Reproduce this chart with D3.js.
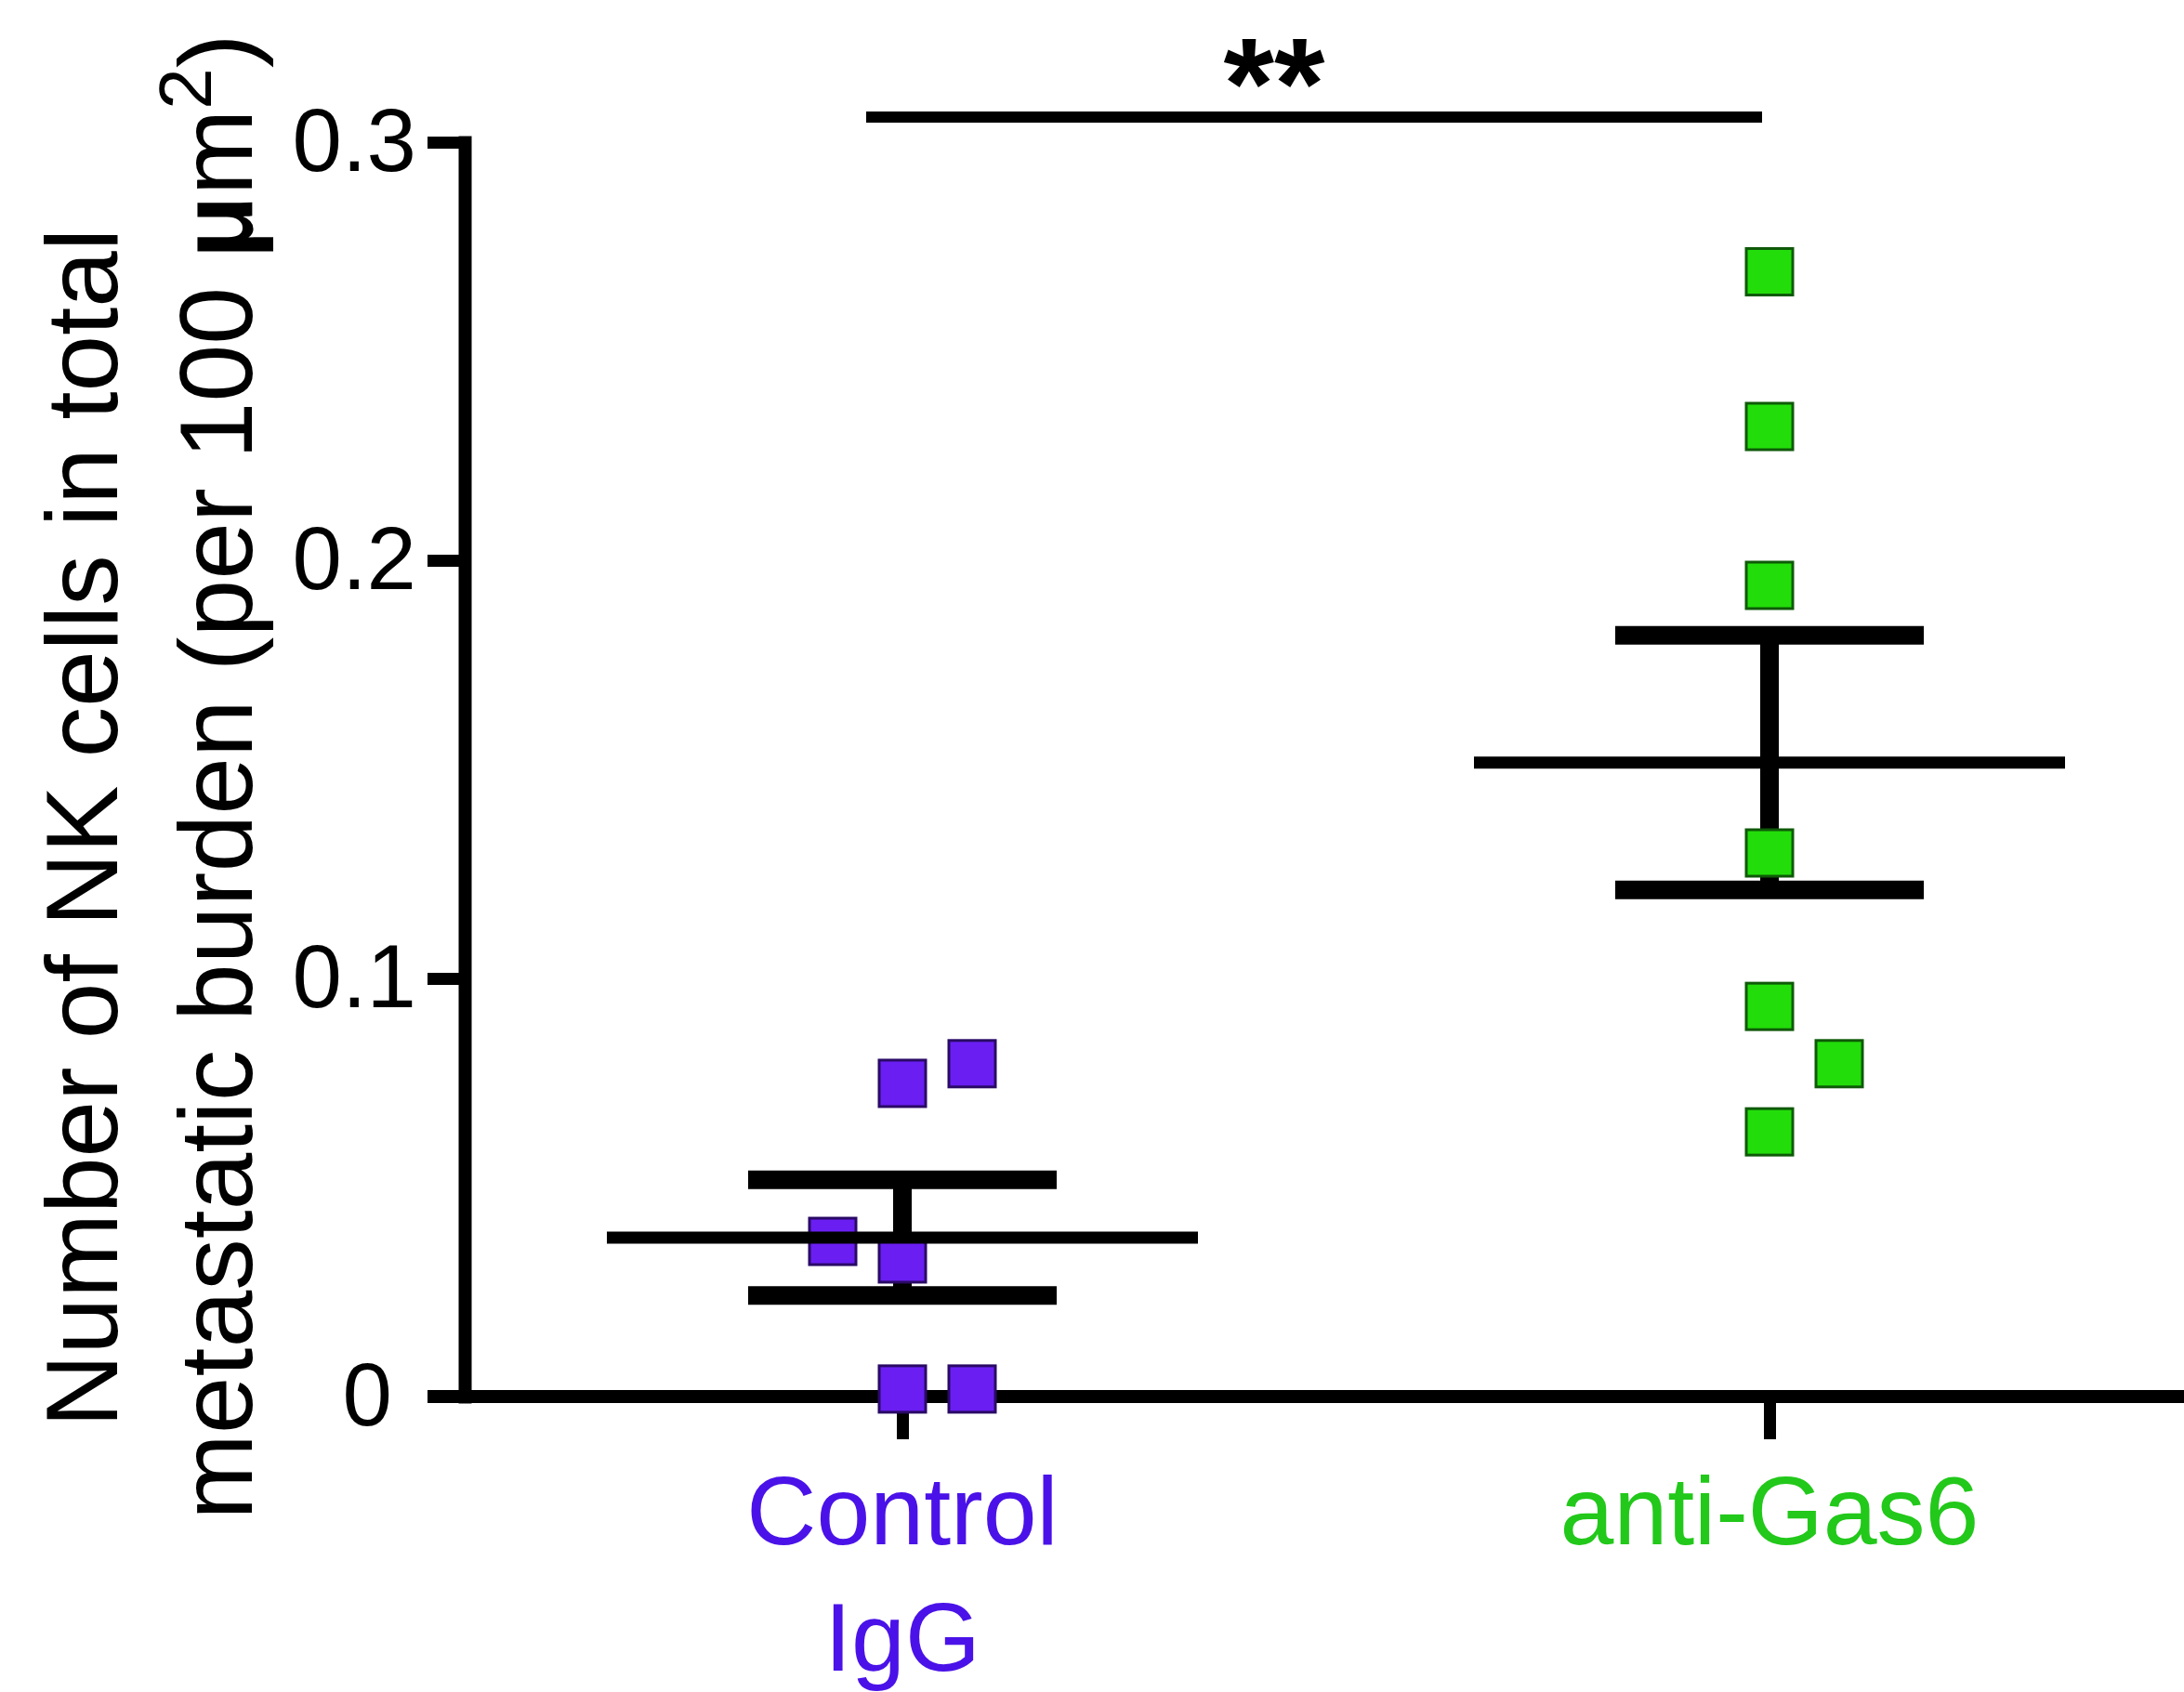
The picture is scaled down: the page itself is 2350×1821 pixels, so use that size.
<!DOCTYPE html>
<html>
<head>
<meta charset="utf-8">
<script src="https://cdn.jsdelivr.net/npm/d3@7"></script>
<style>
  html, body { margin: 0; padding: 0; background: #fff; }
  text { font-family: "Liberation Sans", Arial, sans-serif; }
</style>
</head>
<body>
<svg id="drawing_region"></svg>
<script>
// groups and their values
var categories = ['Control IgG', 'anti-Gas6'];
var categoryLines = [['Control', 'IgG'], ['anti-Gas6']];
var controlValues = [0.0749, 0.0796, 0.0371, 0.0329, 0.0018, 0.0018];
var controlSlots = [0, 1, -1, 0, 0, 1];
var gas6Values = [0.269, 0.232, 0.194, 0.130, 0.0933, 0.0796, 0.0633];
var gas6Slots = [0, 0, 0, 0, 0, 1, 0];
var yTicks = [0, 0.1, 0.2, 0.3];
var yTickLabels = ['0', '0.1', '0.2', '0.3'];
var significance = '**';

var width = 2350;
var height = 1821;
var margin = {top: 153, right: 0, bottom: 318, left: 500};

var groups = [
    {name: categories[0], values: controlValues, slots: controlSlots, fill: '#6a1ef2', stroke: '#2a0a66', text: '#4a12e8'},
    {name: categories[1], values: gas6Values, slots: gas6Slots, fill: '#22dd0a', stroke: '#0e5a08', text: '#22c81a'}
];
groups.forEach(function (g) {
    var n = g.values.length;
    g.mean = d3.mean(g.values);
    g.sem = d3.deviation(g.values) / Math.sqrt(n);
});

var svg = d3.select('#drawing_region')
    .attr('width', width)
    .attr('height', height);

svg.append('rect')
    .attr('width', width)
    .attr('height', height)
    .attr('fill', '#fff');

const xscale = d3.scalePoint()
    .domain(categories)
    .range([971, 1904]);

const yscale = d3.scaleLinear()
    .domain([0, 0.3])
    .range([height - margin.bottom - 0, margin.top]);

// y axis
const yaxis = d3.axisLeft(yscale)
    .tickValues(yTicks)
    .tickFormat((d, i) => yTickLabels[i])
    .tickSize(40)
    .tickSizeOuter(0)
    .tickPadding(12);

const yaxis_group = svg.append('g')
    .attr('transform', `translate(${margin.left}, 0)`)
    .call(yaxis);

yaxis_group.select('.domain')
    .attr('stroke', '#000')
    .attr('stroke-width', 14)
    .attr('stroke-linecap', 'square');
yaxis_group.selectAll('.tick line')
    .attr('stroke', '#000')
    .attr('stroke-width', 13);
yaxis_group.selectAll('.tick text')
    .attr('font-size', 96)
    .attr('fill', '#000')
    .attr('dx', d => d === 0 ? -26 : 0);

// x axis
const xaxis = d3.axisBottom(xscale)
    .tickSize(46)
    .tickSizeOuter(0)
    .tickFormat('');

const xaxis_group = svg.append('g')
    .attr('transform', `translate(0, ${yscale(0)})`)
    .call(xaxis);
xaxis_group.select('.domain').remove();
xaxis_group.selectAll('.tick line')
    .attr('stroke', '#000')
    .attr('stroke-width', 13);
xaxis_group.append('line')
    .attr('x1', margin.left - 40)
    .attr('x2', width)
    .attr('stroke', '#000')
    .attr('stroke-width', 14);

// category labels
groups.forEach(function (g, i) {
    var t = svg.append('text')
        .attr('x', xscale(g.name))
        .attr('y', 1662)
        .attr('text-anchor', 'middle')
        .attr('font-size', 104)
        .attr('fill', g.text);
    categoryLines[i].forEach(function (line, j) {
        t.append('tspan')
            .attr('x', xscale(g.name))
            .attr('dy', j === 0 ? 0 : 136)
            .text(line);
    });
});

// error bars (SEM) and markers
var markerSize = 50;
var slotStep = 75;
var stats = svg.append('g');

groups.forEach(function (g) {
    var cx = xscale(g.name);
    stats.append('line')
        .attr('x1', cx).attr('x2', cx)
        .attr('y1', yscale(g.mean + g.sem))
        .attr('y2', yscale(g.mean - g.sem))
        .attr('stroke', '#000')
        .attr('stroke-width', 20);
});

var points = svg.append('g');
groups.forEach(function (g) {
    points.selectAll(null)
        .data(g.values)
        .join('rect')
        .attr('x', (d, i) => xscale(g.name) + g.slots[i] * slotStep - markerSize / 2)
        .attr('y', d => yscale(d) - markerSize / 2)
        .attr('width', markerSize)
        .attr('height', markerSize)
        .attr('fill', g.fill)
        .attr('stroke', g.stroke)
        .attr('stroke-width', 3);
});

var bars = svg.append('g');
groups.forEach(function (g) {
    var cx = xscale(g.name);
    bars.append('line')
        .attr('x1', cx - 318).attr('x2', cx + 318)
        .attr('y1', yscale(g.mean)).attr('y2', yscale(g.mean))
        .attr('stroke', '#000')
        .attr('stroke-width', 13);
    [g.mean + g.sem, g.mean - g.sem].forEach(function (v) {
        bars.append('line')
            .attr('x1', cx - 166).attr('x2', cx + 166)
            .attr('y1', yscale(v)).attr('y2', yscale(v))
            .attr('stroke', '#000')
            .attr('stroke-width', 20);
    });
});

// significance
svg.append('line')
    .attr('x1', xscale(categories[0]) - 39)
    .attr('x2', xscale(categories[1]) - 8)
    .attr('y1', 126).attr('y2', 126)
    .attr('stroke', '#000')
    .attr('stroke-width', 12);
svg.append('text')
    .attr('x', 1371)
    .attr('y', 138)
    .attr('text-anchor', 'middle')
    .attr('font-size', 140)
    .attr('font-weight', 'bold')
    .attr('fill', '#000')
    .text(significance);

// y axis title
svg.append('text')
    .attr('transform', 'translate(126, 891) rotate(-90)')
    .attr('text-anchor', 'middle')
    .attr('font-size', 109)
    .attr('fill', '#000')
    .text('Number of NK cells in total');

var t2 = svg.append('text')
    .attr('transform', 'translate(271, 836) rotate(-90)')
    .attr('text-anchor', 'middle')
    .attr('font-size', 111)
    .attr('fill', '#000');
t2.append('tspan').text('metastatic burden (per 100 ');
t2.append('tspan').attr('font-weight', 'bold').text('μ');
t2.append('tspan').text('m');
t2.append('tspan').attr('font-size', 80).attr('dy', -44).text('2');
t2.append('tspan').attr('dy', 44).text(')');
</script>
</body>
</html>
